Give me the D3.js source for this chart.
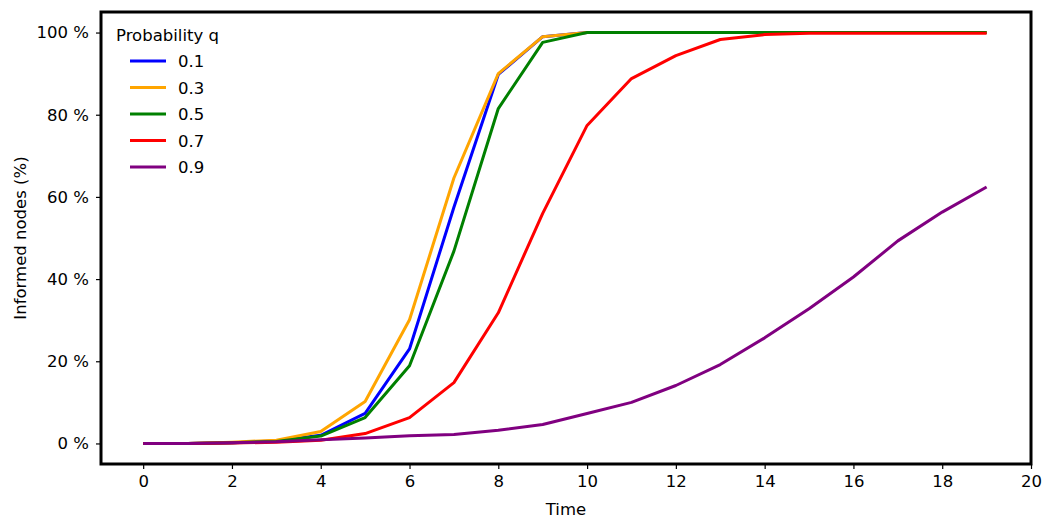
<!DOCTYPE html>
<html>
<head>
<meta charset="utf-8">
<script src="https://cdn.jsdelivr.net/npm/d3@7"></script>
<style>
  body { margin: 0; background: #fff; }
  text { font-family: 'DejaVu Sans', sans-serif; fill: #000; }
</style>
</head>
<body>
<div id="chart"></div>
<script>
// time steps
const steps = d3.range(0, 20);
// probability q per series
const probs = ['0.1', '0.3', '0.5', '0.7', '0.9'];
const colors = ['#0000ff', '#ffa500', '#008000', '#ff0000', '#800080'];
// informed nodes (%) per series
const q01 = [0, 0, 0.2, 0.6, 2, 7.3, 23, 57.5, 89.8, 99, 100, 100, 100, 100, 100, 100, 100, 100, 100, 100];
const q03 = [0, 0, 0.3, 0.8, 2.9, 10.2, 30.1, 64.6, 90, 99, 100, 100, 100, 100, 100, 100, 100, 100, 100, 100];
const q05 = [0, 0, 0.2, 0.5, 1.8, 6.3, 18.9, 46.8, 81.5, 97.6, 100, 100, 100, 100, 100, 100, 100, 100, 100, 100];
const q07 = [0, 0, 0.1, 0.3, 0.8, 2.4, 6.3, 14.8, 31.8, 56, 77.4, 88.8, 94.4, 98.3, 99.5, 99.8, 99.8, 99.8, 99.8, 99.8];
const q09 = [0, 0, 0.2, 0.4, 0.9, 1.3, 1.9, 2.2, 3.2, 4.6, 7.3, 10, 14.1, 19.2, 25.7, 32.8, 40.5, 49.3, 56.3, 62.4];
const seriesValues = [q01, q03, q05, q07, q09];
const xTicks = d3.range(0, 21, 2);
const yTicks = [0, 20, 40, 60, 80, 100];

const width = 1053, height = 531;
const m = { left: 101, right: 1031, top: 12, bottom: 464 };
const fs = '16.5px';

const svg = d3.select('#chart').append('svg')
  .attr('width', width).attr('height', height);

const x = d3.scaleLinear().domain([-0.95, 20]).range([m.left, m.right]);
const y = d3.scaleLinear().domain([-5, 105]).range([m.bottom, m.top]);

// axes
const xAxis = svg.append('g')
  .attr('transform', `translate(0,${m.bottom})`)
  .call(d3.axisBottom(x).tickValues(xTicks).tickSize(5).tickPadding(6).tickFormat(d3.format('d')));
const yAxis = svg.append('g')
  .attr('transform', `translate(${m.left},0)`)
  .call(d3.axisLeft(y).tickValues(yTicks).tickSize(5).tickPadding(7).tickFormat((d) => `${d} %`));
[xAxis, yAxis].forEach((g) => {
  g.select('.domain').remove();
  g.selectAll('.tick line').attr('stroke', '#000').attr('stroke-width', 1.2);
  g.selectAll('.tick text').style('font-size', fs).attr('fill', '#000');
});

// lines
const line = d3.line()
  .x((d, i) => x(steps[i]))
  .y((d) => y(d));

svg.append('g')
  .selectAll('path')
  .data(seriesValues)
  .join('path')
  .attr('d', line)
  .attr('fill', 'none')
  .attr('stroke', (d, i) => colors[i])
  .attr('stroke-width', 3)
  .attr('stroke-linejoin', 'round');

// frame
svg.append('rect')
  .attr('x', m.left).attr('y', m.top)
  .attr('width', m.right - m.left).attr('height', m.bottom - m.top)
  .attr('fill', 'none')
  .attr('stroke', '#000')
  .attr('stroke-width', 3);

// labels
svg.append('text')
  .attr('x', (m.left + m.right) / 2).attr('y', 515)
  .attr('text-anchor', 'middle')
  .style('font-size', fs)
  .text('Time');
svg.append('text')
  .attr('transform', `translate(26,${(m.top + m.bottom) / 2}) rotate(-90)`)
  .attr('text-anchor', 'middle')
  .style('font-size', fs)
  .text('Informed nodes (%)');

// legend
const legend = svg.append('g');
legend.append('text')
  .attr('x', 116).attr('y', 41)
  .style('font-size', fs)
  .text('Probability q');
const items = legend.selectAll('g.item')
  .data(probs)
  .join('g')
  .attr('class', 'item')
  .attr('transform', (d, i) => `translate(0,${61 + i * 26.5})`);
items.append('line')
  .attr('x1', 130).attr('x2', 166)
  .attr('stroke', (d, i) => colors[i])
  .attr('stroke-width', 3);
items.append('text')
  .attr('x', 178).attr('y', 6)
  .style('font-size', fs)
  .text((d) => d);
</script>
</body>
</html>
